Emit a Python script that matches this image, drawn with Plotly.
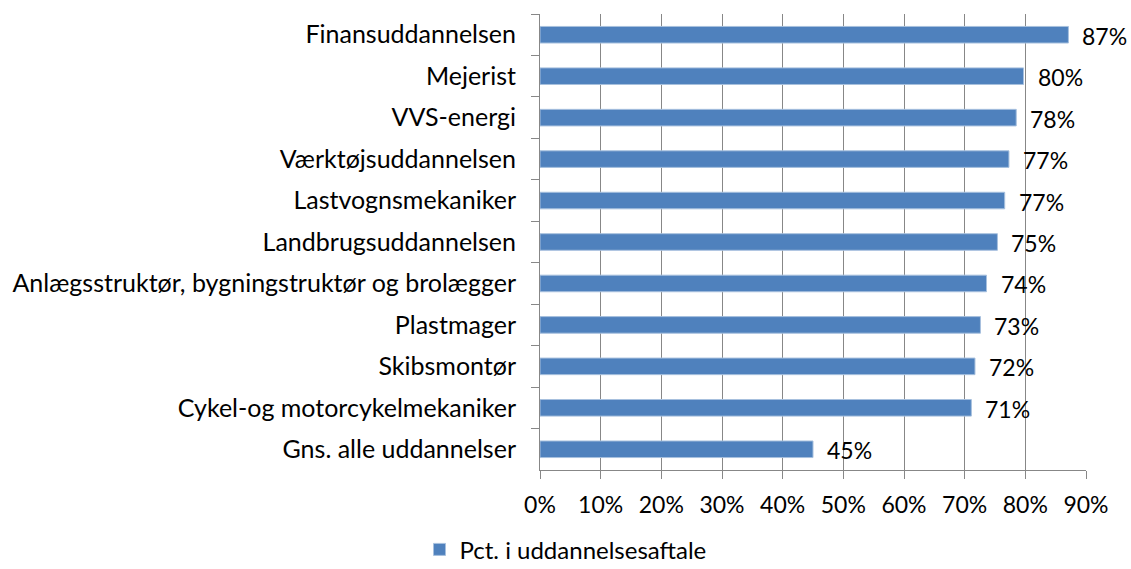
import plotly.graph_objects as go

categories = [
    "Finansuddannelsen",
    "Mejerist",
    "VVS-energi",
    "Værktøjsuddannelsen",
    "Lastvognsmekaniker",
    "Landbrugsuddannelsen",
    "Anlægsstruktør, bygningstruktør og brolægger",
    "Plastmager",
    "Skibsmontør",
    "Cykel-og motorcykelmekaniker",
    "Gns. alle uddannelser",
]
values = [87.1, 79.7, 78.5, 77.3, 76.6, 75.4, 73.6, 72.6, 71.7, 71.1, 45.0]
labels = ["87%", "80%", "78%", "77%", "77%", "75%", "74%", "73%", "72%", "71%", "45%"]
tick_vals = [0, 10, 20, 30, 40, 50, 60, 70, 80, 90]
tick_text = ["0%", "10%", "20%", "30%", "40%", "50%", "60%", "70%", "80%", "90%"]
series_name = "Pct. i uddannelsesaftale"

FONT = "Lato, 'Open Sans', sans-serif"
BAR = "#4F81BD"
GRID = "#878787"

fig = go.Figure()
fig.add_trace(go.Bar(
    x=values, y=categories, orientation="h",
    name=series_name,
    marker=dict(color=BAR, line=dict(color="#A7C0DE", width=1)),
    cliponaxis=False,
    showlegend=True,
))

for v, c, t in zip(values, categories, labels):
    fig.add_annotation(x=v, y=c, text=t, showarrow=False, xanchor="left",
                       xshift=12, yshift=-1,
                       font=dict(family=FONT, size=23, color="#000000"))

fig.update_layout(
    width=1131, height=569,
    margin=dict(l=540, r=45, t=14, b=99, autoexpand=False),
    paper_bgcolor="white", plot_bgcolor="white",
    font=dict(family=FONT, size=23, color="#000000"),
    bargap=0.6,
    showlegend=True,
    legend=dict(orientation="h", xref="container", x=0.5, xanchor="center",
                yref="paper", y=-0.175, yanchor="middle",
                font=dict(family=FONT, size=24), itemwidth=30),
)
fig.update_xaxes(
    range=[0, 90], tickvals=tick_vals, ticktext=tick_text,
    showgrid=True, gridcolor=GRID, gridwidth=1,
    showline=True, linecolor=GRID, linewidth=1,
    ticks="outside", ticklen=8, tickcolor=GRID,
    ticklabelstandoff=6, automargin=False,
    zeroline=False, tickfont=dict(size=23),
)
fig.update_yaxes(
    categoryorder="array", categoryarray=categories, autorange="reversed",
    showline=True, linecolor=GRID, linewidth=1,
    ticks="outside", ticklen=8, tickcolor=GRID, tickson="boundaries",
    ticklabelstandoff=18, automargin=False,
    tickfont=dict(size=25),
)

fig.write_html(
    "out.html",
    config={"displayModeBar": False},
    post_script="document.body.style.margin='0';document.body.style.overflow='hidden';",
)
